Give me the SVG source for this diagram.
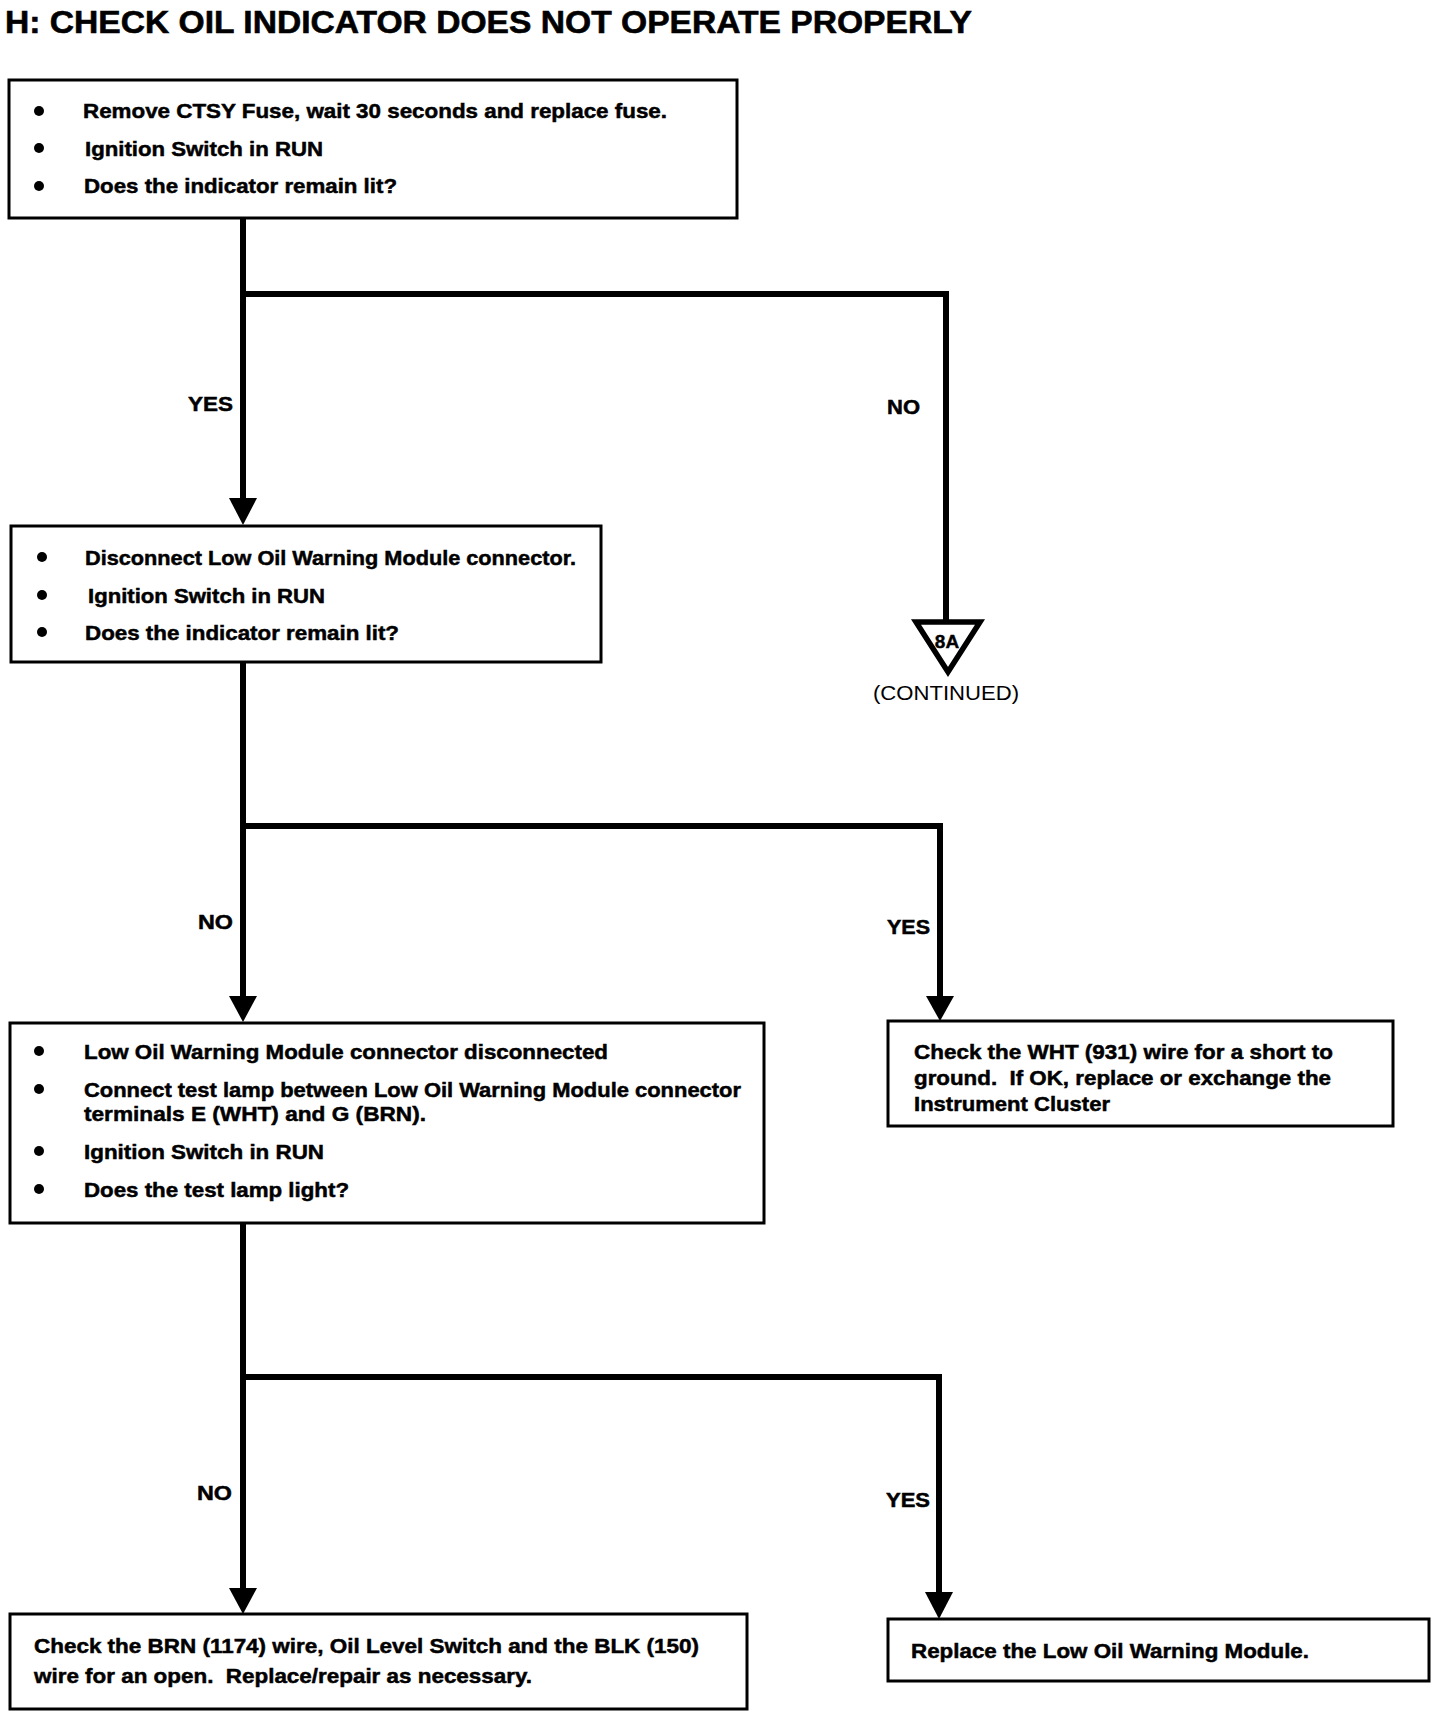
<svg xmlns="http://www.w3.org/2000/svg" width="1440" height="1716" viewBox="0 0 1440 1716">
<defs>
<style>
.box{fill:#fff;stroke:#000;stroke-width:3}
.t{font-family:"Liberation Sans",Arial,sans-serif;font-weight:bold;font-size:21px;fill:#000;stroke:#000;stroke-width:0.5;white-space:pre}
.lbl{font-family:"Liberation Sans",Arial,sans-serif;font-weight:bold;font-size:21px;fill:#000;stroke:#000;stroke-width:0.5}
.title{font-family:"Liberation Sans",Arial,sans-serif;font-weight:bold;font-size:32px;fill:#000;stroke:#000;stroke-width:0.6}
.c{fill:none;stroke:#000;stroke-width:6}
.dot{fill:#000}
</style>
</defs>
<rect width="1440" height="1716" fill="#fff"/>
<text class="title" x="5" y="33" textLength="967" lengthAdjust="spacingAndGlyphs">H: CHECK OIL INDICATOR DOES NOT OPERATE PROPERLY</text>

<g id="connectors">
<path class="c" d="M243,218 V500"/>
<polygon points="229,498 257,498 243,525" fill="#000"/>
<path class="c" d="M243,294 H946 V621"/>
<path class="c" d="M243,662 V998"/>
<polygon points="229,996 257,996 243,1022" fill="#000"/>
<path class="c" d="M243,826 H940 V998"/>
<polygon points="926,996 954,996 940,1021" fill="#000"/>
<path class="c" d="M243,1223 V1590"/>
<polygon points="229,1588 257,1588 243,1614" fill="#000"/>
<path class="c" d="M243,1377 H939 V1594"/>
<polygon points="925,1592 953,1592 939,1619" fill="#000"/>
<text class="lbl" x="188" y="411" textLength="45" lengthAdjust="spacingAndGlyphs">YES</text>
<text class="lbl" x="887" y="414" textLength="33" lengthAdjust="spacingAndGlyphs">NO</text>
<text class="lbl" x="198" y="929" textLength="35" lengthAdjust="spacingAndGlyphs">NO</text>
<text class="lbl" x="887" y="934" textLength="43" lengthAdjust="spacingAndGlyphs">YES</text>
<text class="lbl" x="197" y="1500" textLength="35" lengthAdjust="spacingAndGlyphs">NO</text>
<text class="lbl" x="886" y="1507" textLength="44" lengthAdjust="spacingAndGlyphs">YES</text>
</g>

<g id="box1">
<rect class="box" x="9" y="80" width="728" height="138"/>
<circle class="dot" cx="39" cy="111" r="5"/>
<circle class="dot" cx="39" cy="148" r="5"/>
<circle class="dot" cx="39" cy="186" r="5"/>
<text class="t" x="83" y="118" textLength="584" lengthAdjust="spacingAndGlyphs">Remove CTSY Fuse, wait 30 seconds and replace fuse.</text>
<text class="t" x="85" y="156" textLength="238" lengthAdjust="spacingAndGlyphs">Ignition Switch in RUN</text>
<text class="t" x="84" y="193" textLength="313" lengthAdjust="spacingAndGlyphs">Does the indicator remain lit?</text>
</g>

<g id="box2">
<rect class="box" x="11" y="526" width="590" height="136"/>
<circle class="dot" cx="42" cy="557" r="5"/>
<circle class="dot" cx="42" cy="595" r="5"/>
<circle class="dot" cx="42" cy="632" r="5"/>
<text class="t" x="85" y="565" textLength="491" lengthAdjust="spacingAndGlyphs">Disconnect Low Oil Warning Module connector.</text>
<text class="t" x="88" y="603" textLength="237" lengthAdjust="spacingAndGlyphs">Ignition Switch in RUN</text>
<text class="t" x="85" y="640" textLength="314" lengthAdjust="spacingAndGlyphs">Does the indicator remain lit?</text>
</g>

<g id="node8A">
<polygon points="916,622 980,622 948,672" fill="#fff" stroke="#000" stroke-width="5.5" stroke-linejoin="miter"/>
<text x="947" y="648" text-anchor="middle" font-family="'Liberation Sans',Arial,sans-serif" font-weight="bold" font-size="19" stroke="#000" stroke-width="0.4">8A</text>
<text x="946" y="700" text-anchor="middle" font-family="'Liberation Sans',Arial,sans-serif" font-size="20" textLength="146" lengthAdjust="spacingAndGlyphs">(CONTINUED)</text>
</g>

<g id="box3">
<rect class="box" x="10" y="1023" width="754" height="200"/>
<circle class="dot" cx="39" cy="1051" r="5"/>
<circle class="dot" cx="39" cy="1089" r="5"/>
<circle class="dot" cx="39" cy="1151" r="5"/>
<circle class="dot" cx="39" cy="1189" r="5"/>
<text class="t" x="84" y="1059" textLength="524" lengthAdjust="spacingAndGlyphs">Low Oil Warning Module connector disconnected</text>
<text class="t" x="84" y="1097" textLength="657" lengthAdjust="spacingAndGlyphs">Connect test lamp between Low Oil Warning Module connector</text>
<text class="t" x="84" y="1121" textLength="342" lengthAdjust="spacingAndGlyphs">terminals E (WHT) and G (BRN).</text>
<text class="t" x="84" y="1159" textLength="240" lengthAdjust="spacingAndGlyphs">Ignition Switch in RUN</text>
<text class="t" x="84" y="1197" textLength="265" lengthAdjust="spacingAndGlyphs">Does the test lamp light?</text>
</g>

<g id="box4">
<rect class="box" x="888" y="1021" width="505" height="105"/>
<text class="t" x="914" y="1059" textLength="419" lengthAdjust="spacingAndGlyphs">Check the WHT (931) wire for a short to</text>
<text class="t" x="914" y="1085" textLength="417" lengthAdjust="spacingAndGlyphs">ground.  If OK, replace or exchange the</text>
<text class="t" x="914" y="1111" textLength="196" lengthAdjust="spacingAndGlyphs">Instrument Cluster</text>
</g>

<g id="box5">
<rect class="box" x="10" y="1614" width="737" height="95"/>
<text class="t" x="34" y="1653" textLength="665" lengthAdjust="spacingAndGlyphs">Check the BRN (1174) wire, Oil Level Switch and the BLK (150)</text>
<text class="t" x="34" y="1683" textLength="498" lengthAdjust="spacingAndGlyphs">wire for an open.  Replace/repair as necessary.</text>
</g>

<g id="box6">
<rect class="box" x="888" y="1619" width="541" height="62"/>
<text class="t" x="911" y="1658" textLength="398" lengthAdjust="spacingAndGlyphs">Replace the Low Oil Warning Module.</text>
</g>
</svg>
